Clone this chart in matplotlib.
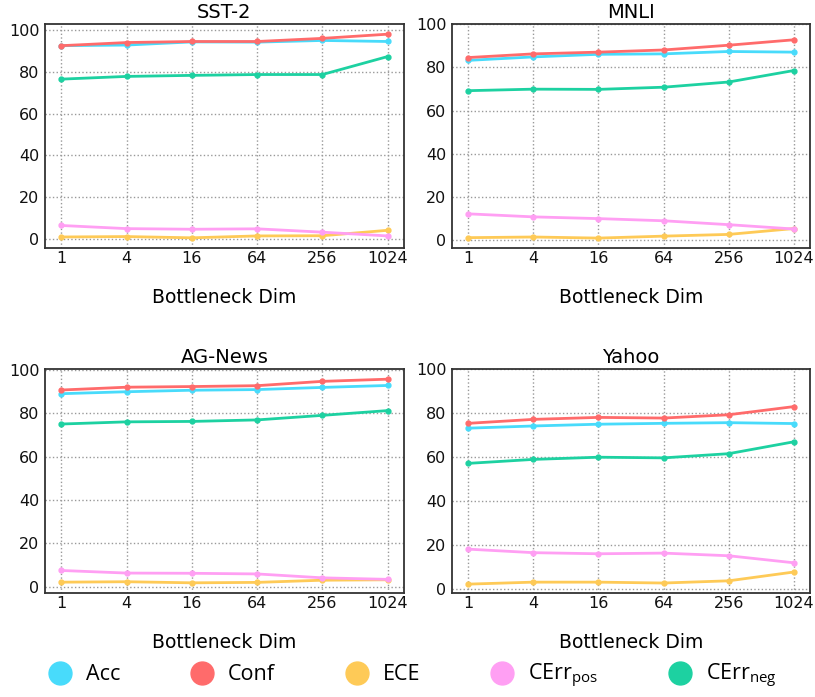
import matplotlib
matplotlib.use("Agg")
import matplotlib.pyplot as plt
from matplotlib.lines import Line2D

dims = ["1", "4", "16", "64", "256", "1024"]
series_names = ["Acc", "Conf", "ECE", "CErr$_\\mathregular{pos}$", "CErr$_\\mathregular{neg}$"]
colors = ["#48DBFB", "#FF6B6B", "#FECA57", "#FF9FF3", "#1DD1A1"]

sst2_acc = [92.5, 92.8, 94.3, 94.2, 95.0, 94.5]
sst2_conf = [92.5, 94.0, 94.5, 94.5, 96.0, 98.0]
sst2_ece = [1.0, 1.2, 0.6, 1.5, 1.6, 4.2]
sst2_pos = [6.5, 5.0, 4.7, 4.9, 3.3, 1.5]
sst2_neg = [76.5, 77.8, 78.3, 78.7, 78.7, 87.3]

mnli_acc = [83.2, 84.8, 86.0, 86.2, 87.3, 87.0]
mnli_conf = [84.5, 86.2, 87.0, 88.0, 90.2, 92.7]
mnli_ece = [1.3, 1.6, 1.1, 2.0, 2.8, 5.5]
mnli_pos = [12.3, 10.9, 10.1, 9.1, 7.3, 5.3]
mnli_neg = [69.2, 69.9, 69.8, 70.8, 73.2, 78.5]

ag_acc = [89.0, 89.9, 90.6, 90.9, 91.9, 92.8]
ag_conf = [90.7, 92.0, 92.3, 92.7, 94.7, 95.7]
ag_ece = [2.0, 2.2, 1.7, 1.9, 2.9, 3.1]
ag_pos = [7.4, 6.2, 6.1, 5.8, 4.0, 3.3]
ag_neg = [75.0, 76.0, 76.2, 76.9, 79.0, 81.2]

yahoo_acc = [73.1, 74.1, 74.9, 75.3, 75.6, 75.2]
yahoo_conf = [75.3, 77.1, 78.0, 77.7, 79.2, 82.9]
yahoo_ece = [2.2, 3.1, 3.1, 2.7, 3.7, 7.7]
yahoo_pos = [18.1, 16.5, 16.0, 16.3, 15.1, 11.9]
yahoo_neg = [57.1, 58.9, 59.9, 59.6, 61.5, 66.9]

panels = [
    ("SST-2", [sst2_acc, sst2_conf, sst2_ece, sst2_pos, sst2_neg], False),
    ("MNLI", [mnli_acc, mnli_conf, mnli_ece, mnli_pos, mnli_neg], True),
    ("AG-News", [ag_acc, ag_conf, ag_ece, ag_pos, ag_neg], False),
    ("Yahoo", [yahoo_acc, yahoo_conf, yahoo_ece, yahoo_pos, yahoo_neg], True),
]

plt.rcParams['font.family'] = ['DejaVu Sans']
plt.rcParams['mathtext.fontset'] = 'custom'
plt.rcParams['mathtext.rm'] = 'Open Sans'

W, H = 815, 697
fig = plt.figure(figsize=(W / 100, H / 100), dpi=100)

boxes = [
    (45, 24, 404, 248),
    (452, 24, 810, 248),
    (45, 369, 404, 593),
    (452, 369, 810, 593),
]

x = list(range(len(dims)))
for (title, vals, cap100), (x0, y0, x1, y1) in zip(panels, boxes):
    ax = fig.add_axes([x0 / W, 1 - y1 / H, (x1 - x0) / W, (y1 - y0) / H])
    for v, c in zip(vals, colors):
        ax.plot(x, v, color=c, lw=2, marker='o', markersize=3.5, zorder=3)
    ax.set_xticks(x)
    ax.set_xticklabels(dims)
    ax.set_yticks([0, 20, 40, 60, 80, 100])
    if cap100:
        ax.set_ylim(top=100)
    ax.grid(True, linestyle=':', color='#999999', linewidth=1)
    ax.set_axisbelow(True)
    ax.tick_params(axis='y', length=0, labelsize=11.5, pad=4, colors='#111111')
    ax.tick_params(axis='x', length=0, labelsize=11.5, pad=2, colors='#111111')
    for s in ax.spines.values():
        s.set_color('#333333')
        s.set_linewidth(1.3)
    ax.set_title(title, fontsize=14, pad=4)
    ax.set_xlabel("Bottleneck Dim", fontsize=13.5, labelpad=16)

handles = [Line2D([], [], color=c, marker='o', linestyle='none', markersize=16.5) for c in colors]
fig.legend(handles, series_names, loc='center', bbox_to_anchor=(0.5, 1 - 676 / H), ncol=5,
           frameon=False, prop={'family': 'Open Sans', 'size': 15.5}, columnspacing=2.8,
           handlelength=2.0, handletextpad=0.2, borderaxespad=0, borderpad=0)

fig.savefig("out.png", dpi=100)
